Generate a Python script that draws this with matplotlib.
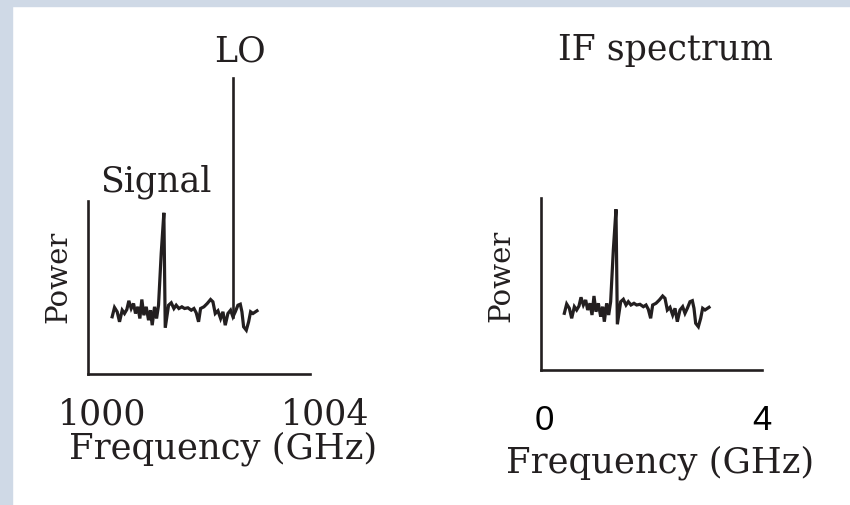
import matplotlib.pyplot as plt
from matplotlib.patches import Rectangle

# noisy spectrum with one narrow line, as seen at IF (GHz, arbitrary power)
if_freq = [0.373, 0.416, 0.465, 0.508, 0.557, 0.599, 0.642, 0.679, 0.722, 0.765,
           0.801, 0.844, 0.881, 0.917, 0.954, 0.997, 1.040, 1.076, 1.107, 1.150,
           1.187, 1.223, 1.272, 1.321, 1.346, 1.407, 1.456, 1.505, 1.547, 1.596,
           1.651, 1.700, 1.761, 1.823, 1.872, 1.914, 1.957, 1.994, 2.055, 2.116,
           2.177, 2.220, 2.263, 2.312, 2.361, 2.404, 2.446, 2.495, 2.544, 2.587,
           2.630, 2.679, 2.722, 2.752, 2.783, 2.832, 2.875, 2.911, 2.954, 3.028]
power = [56.7, 66.0, 61.7, 51.7, 63.3, 60.0, 64.0, 72.7, 65.0, 70.0,
         60.0, 66.7, 55.0, 74.0, 58.3, 66.7, 53.3, 63.3, 48.3, 66.7,
         55.0, 68.3, 120.0, 160.7, 45.7, 68.3, 70.7, 65.0, 68.3, 65.0,
         66.7, 65.0, 65.7, 63.3, 65.0, 60.7, 51.7, 65.0, 66.7, 70.0,
         74.0, 71.7, 60.0, 62.7, 55.0, 61.7, 48.3, 60.0, 63.3, 56.7,
         61.7, 68.3, 69.3, 61.7, 46.7, 43.3, 51.7, 61.7, 60.0, 62.7]

rf_shift = 999.82          # GHz, puts the same trace on the RF axis
lo_freq = 1002.41          # GHz
lo_range = [57.0, 295.0]
rf_ticks = [1000, 1004]
if_ticks = [0, 4]

ink = '#231f20'
plt.rcParams['font.family'] = 'DejaVu Serif'

W, H = 850, 505
fig = plt.figure(figsize=(W / 100, H / 100), dpi=100)

# pale frame along the left and top edges
band = '#cfd9e6'
fig.patches.append(Rectangle((0, 0), 12 / W, 1, transform=fig.transFigure, color=band, zorder=-1))
fig.patches.append(Rectangle((0, 1 - 6 / H), 1, 6 / H, transform=fig.transFigure, color=band, zorder=-1))


def px_axes(x0, y_bottom, w, h):
    return fig.add_axes([x0 / W, (H - y_bottom) / H, w / W, h / H])


def style(ax):
    for s in ['top', 'right']:
        ax.spines[s].set_visible(False)
    for s in ['left', 'bottom']:
        ax.spines[s].set_linewidth(1.9)
        ax.spines[s].set_color(ink)
        ax.spines[s].set_capstyle('projecting')
    ax.set_xticks([])
    ax.set_yticks([])
    ax.set_ylim(0, 172)
    ax.patch.set_alpha(0)


# RF spectrum
ax1 = px_axes(88, 373.5, 222, 172)
style(ax1)
ax1.set_xlim(999.75, 1003.82)
rf_freq = [f + rf_shift for f in if_freq]
ax1.plot(rf_freq, power, color=ink, lw=2.3, solid_joinstyle='miter')
ax1.plot([lo_freq, lo_freq], lo_range, color=ink, lw=1.9, clip_on=False)
ax1.text(lo_freq + 0.13, lo_range[1] + 27, 'LO', ha='center', va='center', fontsize=25, color=ink)
ax1.text(1001.0, 192, 'Signal', ha='center', va='center', fontsize=25, color=ink)
for t, dx in zip(rf_ticks, [0, 0.1]):
    ax1.text(t + dx, -41, str(t), ha='center', va='center', fontsize=25, color=ink, clip_on=False)
ax1.text(-0.135, 0.56, 'Power', rotation=90, ha='center', va='center', fontsize=21,
         color=ink, transform=ax1.transAxes)
ax1.text(0.61, -0.44, 'Frequency (GHz)', ha='center', va='center', fontsize=25.5,
         color=ink, transform=ax1.transAxes)

# IF spectrum
ax2 = px_axes(541, 370, 221, 172)
style(ax2)
ax2.set_xlim(-0.055, 4.0)
ax2.plot(if_freq, power, color=ink, lw=2.3, solid_joinstyle='miter')
ax2.text(0.565, 1.86, 'IF spectrum', ha='center', va='center', fontsize=25,
         color=ink, transform=ax2.transAxes)
for t in if_ticks:
    ax2.text(t, -50, str(t), ha='center', va='center', fontsize=25, color='black',
             family='Liberation Sans', clip_on=False)
ax2.text(-0.18, 0.55, 'Power', rotation=90, ha='center', va='center', fontsize=21,
         color=ink, transform=ax2.transAxes)
ax2.text(0.54, -0.54, 'Frequency (GHz)', ha='center', va='center', fontsize=25.5,
         color=ink, transform=ax2.transAxes)

fig.savefig('out.png', dpi=100, facecolor='white')
